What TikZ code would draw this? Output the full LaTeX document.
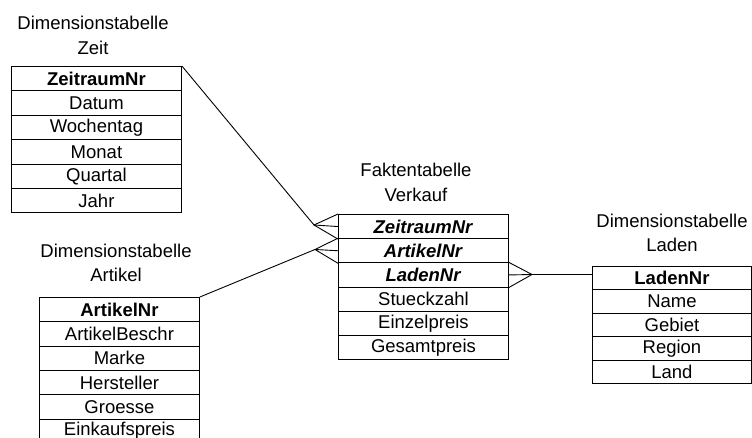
\documentclass[tikz,border=0pt]{standalone}
\usepackage{fontspec}
\setmainfont{Liberation Sans}
\begin{document}
\begin{tikzpicture}[x=1pt,y=-1pt,
  every node/.style={font=\fontsize{18.5}{24.5}\selectfont},
  cell/.style={draw, line width=0.9pt, inner sep=0pt, anchor=north west},
  title/.style={align=center, inner sep=0pt},
  link/.style={line width=0.9pt}]
\useasboundingbox (0,0) rectangle (752,438);
\clip (0,0) rectangle (752,438);

% Dimension table: Zeit
\node[title] (tz) at (93,35.5) {Dimensionstabelle\\Zeit};
\begin{scope}[cell/.append style={minimum width=170pt, minimum height=24.4pt}]
  \node[cell] (z1) at (11,66) {\textbf{ZeitraumNr}};
  \foreach [count=\i from 2] \t in {Datum,Wochentag,Monat,Quartal,Jahr}
    \node[cell] (z\i) at (11,{66+(\i-1)*24.4}) {\t};
\end{scope}

% Fact table: Verkauf
\node[title] (tf) at (416,182.5) {Faktentabelle\\Verkauf};
\begin{scope}[cell/.append style={minimum width=170pt, minimum height=24.2pt}]
  \node[cell] (f1) at (338,214) {\textbf{\itshape ZeitraumNr}};
  \node[cell] (f2) at (338,238.2) {\textbf{\itshape ArtikelNr}};
  \node[cell] (f3) at (338,262.4) {\textbf{\itshape LadenNr}};
  \foreach [count=\i from 4] \t in {Stueckzahl,Einzelpreis,Gesamtpreis}
    \node[cell] (f\i) at (338,{214+(\i-1)*24.2}) {\t};
\end{scope}

% Dimension table: Artikel
\node[title] (ta) at (116,263) {Dimensionstabelle\\Artikel};
\begin{scope}[cell/.append style={minimum width=160pt, minimum height=24.3pt}]
  \node[cell] (a1) at (39,297) {\textbf{ArtikelNr}};
  \foreach [count=\i from 2] \t in {ArtikelBeschr,Marke,Hersteller,Groesse,Einkaufspreis}
    \node[cell] (a\i) at (39,{297+(\i-1)*24.3}) {\t};
\end{scope}

% Dimension table: Laden
\node[title] (tl) at (672,233) {Dimensionstabelle\\Laden};
\begin{scope}[cell/.append style={minimum width=159pt, minimum height=23.4pt}]
  \node[cell] (l1) at (592,266) {\textbf{LadenNr}};
  \foreach [count=\i from 2] \t in {Name,Gebiet,Region,Land}
    \node[cell] (l\i) at (592,{266+(\i-1)*23.4}) {\t};
\end{scope}

% Crow's-foot joints
\coordinate (cz) at (314,225);
\coordinate (ca) at (315,249.5);
\coordinate (cl) at (532,274.5);

% Zeit -- Verkauf
\draw[link] (z1.north east) -- (cz);
\draw[link] (f1.north west) -- (cz) -- (f1.south west);
\draw[link] (cz) -- (f1.west);

% Artikel -- Verkauf
\draw[link] (a1.north east) -- (ca);
\draw[link] (f2.north west) -- (ca) -- (f2.south west);
\draw[link] (ca) -- (f2.west);

% Laden -- Verkauf
\draw[link] (f3.north east) -- (cl) -- (f3.south east);
\draw[link] (f3.east) -- (cl);
\draw[link] (cl) -- (cl -| l1.west);
\end{tikzpicture}
\end{document}
